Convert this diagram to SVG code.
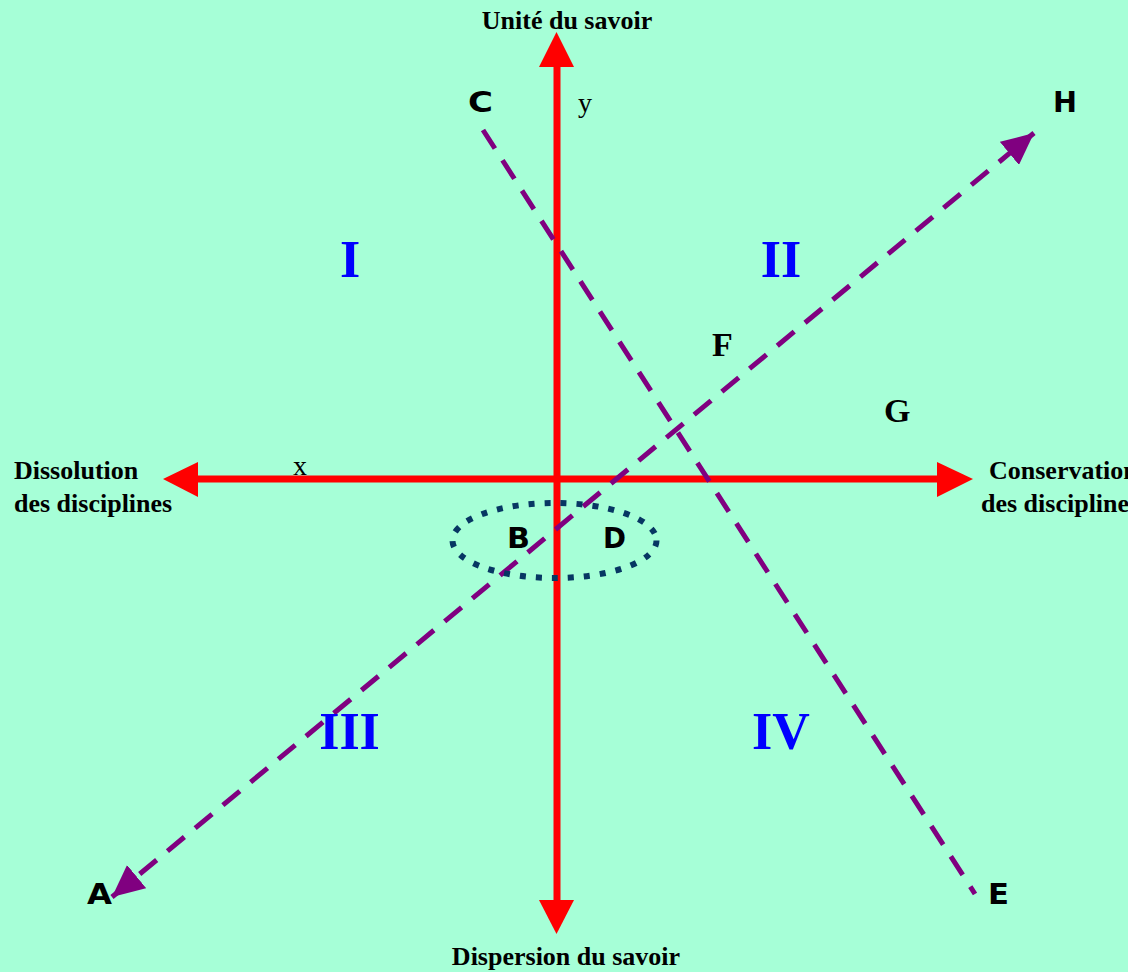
<svg xmlns="http://www.w3.org/2000/svg" width="1128" height="972" viewBox="0 0 1128 972">
<style>
.title{font-family:"Liberation Serif","Times New Roman",serif;font-weight:bold;font-size:26px;fill:#000}
.roman{font-family:"Liberation Serif","Times New Roman",serif;font-weight:bold;font-size:52px;fill:#0000FF;text-anchor:middle}
.pt{font-family:"DejaVu Sans","Verdana",sans-serif;font-weight:bold;font-size:29px;fill:#000}
.pts{font-family:"Liberation Serif","Times New Roman",serif;font-weight:bold;font-size:34px;fill:#000}
.var{font-family:"Liberation Serif","Times New Roman",serif;font-size:28px;fill:#000}
.axis{stroke:#FF0000;stroke-width:7;fill:none}
.head{fill:#FF0000}
.dash{stroke:#800080;stroke-width:5;fill:none;stroke-dasharray:22 14}
</style>
<defs>
<marker id="pa" viewBox="0 0 32 30" refX="32" refY="15" markerWidth="32" markerHeight="30" markerUnits="userSpaceOnUse" orient="auto-start-reverse">
<path d="M0,0 L32,15 L0,30 Z" fill="#800080"/>
</marker>
</defs>
<rect width="1128" height="972" fill="#A6FFD7"/>
<g id="connectors">
<line class="axis" x1="557" y1="66" x2="557" y2="901"/>
<line class="axis" x1="197" y1="479" x2="938" y2="479"/>
<polygon class="head" points="556.5,32 539,67 574,67"/>
<polygon class="head" points="556.5,934 539,900 574,900"/>
<polygon class="head" points="163,479 198,462 198,497"/>
<polygon class="head" points="973,479 937,462 937,497"/>
<line class="dash" x1="112" y1="897" x2="1034" y2="133" marker-start="url(#pa)" marker-end="url(#pa)"/>
<line class="dash" x1="483" y1="130" x2="975" y2="894"/>
</g>
<g id="ellipse-BD">
<ellipse cx="554.5" cy="540.5" rx="102" ry="37.5" fill="none" stroke="#073763" stroke-width="6" stroke-dasharray="6 10"/>
</g>
<g id="axis-labels">
<text class="title" x="567" y="29" text-anchor="middle">Unité du savoir</text>
<text class="title" x="566" y="965" text-anchor="middle">Dispersion du savoir</text>
<text class="title" x="14" y="479">Dissolution</text>
<text class="title" x="14" y="512">des disciplines</text>
<text class="title" x="989" y="479">Conservation</text>
<text class="title" x="981" y="512">des disciplines</text>
<text class="var" x="578" y="112">y</text>
<text class="var" x="293" y="475">x</text>
</g>
<g id="quadrants">
<text class="roman" x="350" y="277">I</text>
<text class="roman" x="781" y="277">II</text>
<text class="roman" x="349.5" y="749">III</text>
<text class="roman" x="781" y="749">IV</text>
</g>
<g id="points">
<text class="pt" x="87" y="904" textLength="25" lengthAdjust="spacingAndGlyphs">A</text>
<text class="pt" x="507" y="548" textLength="23" lengthAdjust="spacingAndGlyphs">B</text>
<text class="pt" x="468" y="112" textLength="25" lengthAdjust="spacingAndGlyphs">C</text>
<text class="pt" x="603" y="548" textLength="23" lengthAdjust="spacingAndGlyphs">D</text>
<text class="pt" x="988" y="904" textLength="21" lengthAdjust="spacingAndGlyphs">E</text>
<text class="pts" x="712" y="356">F</text>
<text class="pts" x="884" y="422">G</text>
<text class="pt" x="1053" y="112" textLength="24" lengthAdjust="spacingAndGlyphs">H</text>
</g>
</svg>
